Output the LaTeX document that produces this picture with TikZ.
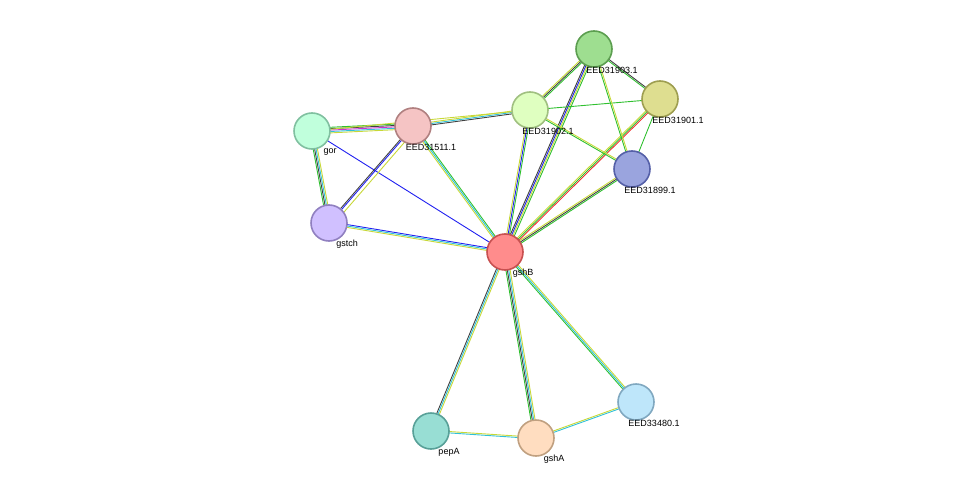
\documentclass[tikz,border=0pt]{standalone}
\usepackage{fontspec}
\setmainfont{Liberation Sans}
\usetikzlibrary{calc,backgrounds}
\definecolor{ytm}{HTML}{C8D838}
\definecolor{dbc}{HTML}{30C0D8}
\definecolor{nbg}{HTML}{30C030}
\definecolor{exm}{HTML}{D030D0}
\definecolor{cob}{HTML}{2020F0}
\definecolor{fus}{HTML}{F03030}
\definecolor{cex}{HTML}{404040}
\tikzset{
  prot/.style n args={3}{circle,
    /utils/exec={\definecolor{pfill}{HTML}{#1}\definecolor{pdraw}{HTML}{#2}},
    draw=pdraw,fill=pfill,line width=1.6pt,minimum size=36pt,inner sep=0pt,
    label={[anchor=west,font=\fontsize{9}{10}\selectfont,xshift=18pt,yshift=-21pt]center:#3}},
  lnk/.style={line width=0.9pt}
}
\newcommand{\edge}[3]{%
  \foreach \c/\o in {#3}{%
    \draw[lnk,\c] ($(#1)!\o*1.4pt!90:(#2)$) -- ($(#2)!\o*1.4pt!-90:(#1)$);}}
\begin{document}
\begin{tikzpicture}[x=1pt,y=-1pt]
  \useasboundingbox (0,0) rectangle (976,484);
  % proteins
  \node[prot={FF8C8C}{C85050}{gshB}] (gshB) at (505,252) {};
  \node[prot={9EDE90}{5C9E50}{EED31903.1}] (p903) at (594,49) {};
  \node[prot={DEDE90}{9E9E50}{EED31901.1}] (p901) at (660,99) {};
  \node[prot={DFFFC0}{A0C080}{EED31902.1}] (p902) at (530,110) {};
  \node[prot={9AA4DE}{5560A8}{EED31899.1}] (p899) at (632,169) {};
  \node[prot={F5C4C4}{B08080}{EED31511.1}] (p511) at (413,126) {};
  \node[prot={C0FFDC}{80C0A0}{gor}] (gor) at (312,131) {};
  \node[prot={D0C0FF}{9080C0}{gstch}] (gstch) at (329,223) {};
  \node[prot={BEE6FA}{80A8C0}{EED33480.1}] (p480) at (636,402) {};
  \node[prot={98DED4}{58A098}{pepA}] (pepA) at (431,431) {};
  \node[prot={FFDDC0}{C0A080}{gshA}] (gshA) at (536,438) {};
  % links
  \begin{scope}[on background layer]
    \edge{gshB}{p903}{nbg/-1.5,ytm/-0.5,cob/0.5,cex/1.5}
    \edge{gshB}{p902}{nbg/-1,cob/0,ytm/1}
    \edge{gshB}{p901}{fus/-1,nbg/0,ytm/1}
    \edge{gshB}{p899}{nbg/-1,cex/0,ytm/1}
    \edge{gshB}{p511}{nbg/-1,dbc/0,ytm/1}
    \edge{gshB}{gor}{cob/0}
    \edge{gshB}{gstch}{cob/-1,dbc/0,ytm/1}
    \edge{gshB}{pepA}{cex/-1,dbc/0,ytm/1}
    \edge{gshB}{gshA}{nbg/-1.5,cex/-0.5,dbc/0.5,ytm/1.5}
    \edge{gshB}{p480}{nbg/-1,dbc/0,ytm/1}
    \edge{pepA}{gshA}{dbc/-0.5,ytm/0.5}
    \edge{gshA}{p480}{dbc/-0.5,ytm/0.5}
    \edge{gor}{p511}{ytm/-2,dbc/-1,exm/0,cex/1,nbg/2}
    \edge{gor}{gstch}{nbg/-1.5,cex/-0.5,dbc/0.5,ytm/1.5}
    \edge{p511}{gstch}{cex/-0.5,cob/0.5,ytm/3}
    \edge{p511}{p902}{cex/-1,dbc/0,ytm/1}
    \edge{gor}{p902}{ytm/0}
    \edge{p902}{p903}{nbg/-1,cex/0,ytm/1}
    \edge{p902}{p901}{nbg/0}
    \edge{p902}{p899}{nbg/-0.5,ytm/0.5}
    \edge{p903}{p901}{nbg/-0.5,cex/0.5}
    \edge{p903}{p899}{nbg/-0.5,ytm/0.5}
    \edge{p901}{p899}{nbg/0}
  \end{scope}
\end{tikzpicture}
\end{document}
